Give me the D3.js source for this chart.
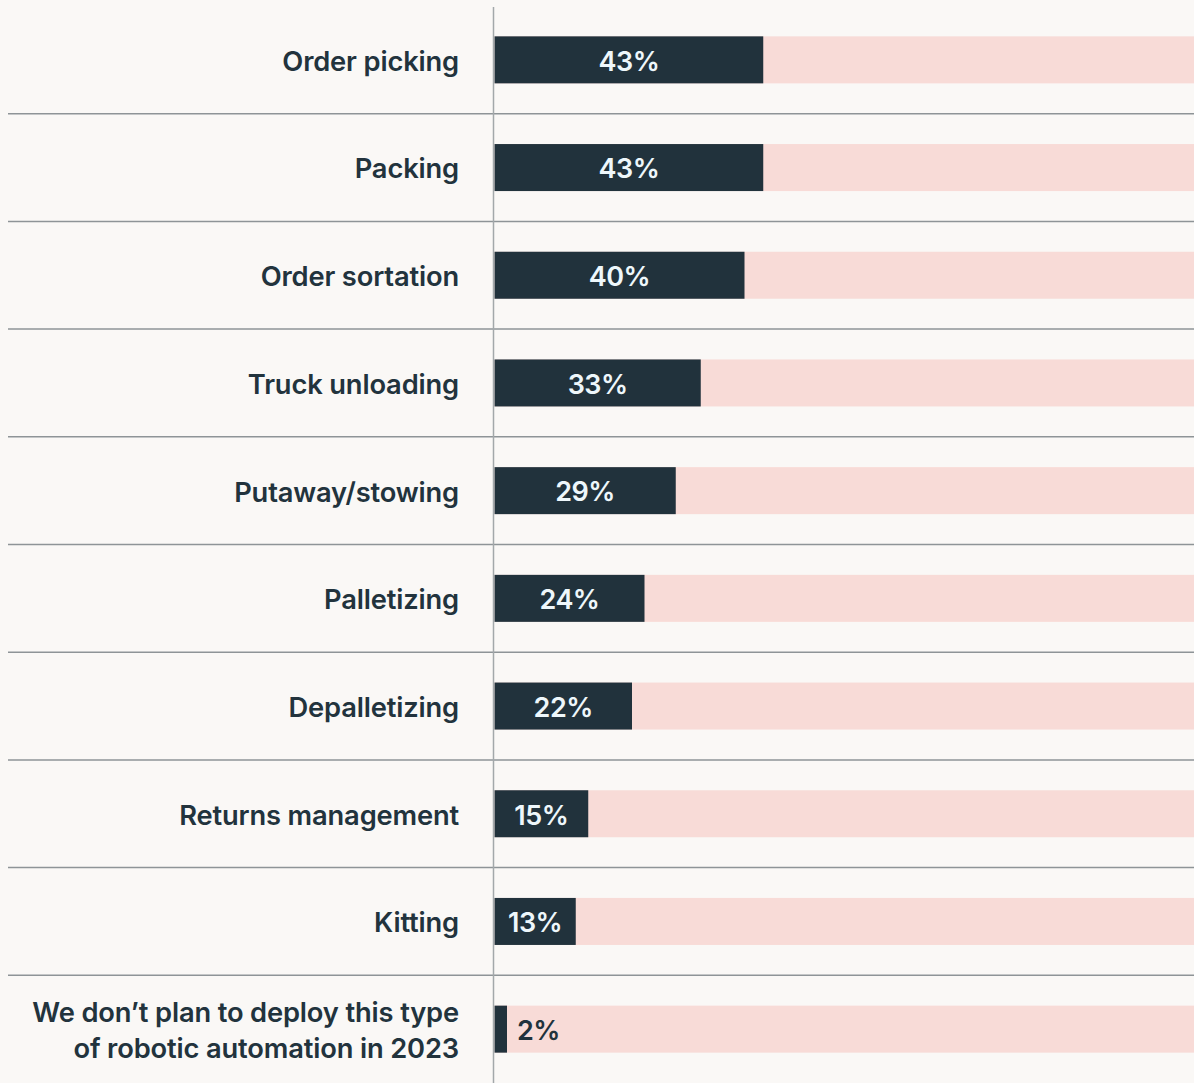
<!DOCTYPE html>
<html>
<head>
<meta charset="utf-8">
<script src="https://cdn.jsdelivr.net/npm/d3@7"></script>
<style>
  html, body { margin: 0; padding: 0; background: #faf8f6; }
  svg { display: block; }
  text { font-family: Inter, "Open Sans", sans-serif; }
</style>
</head>
<body>
<div id="chart"></div>
<script>
const categories = [
  "Order picking",
  "Packing",
  "Order sortation",
  "Truck unloading",
  "Putaway/stowing",
  "Palletizing",
  "Depalletizing",
  "Returns management",
  "Kitting",
  "We don\u2019t plan to deploy this type\nof robotic automation in 2023"
];
const values = [43, 43, 40, 33, 29, 24, 22, 15, 13, 2];

const W = 1194, H = 1083;
const axisX = 494.5;
const svg = d3.select("#chart").append("svg").attr("width", W).attr("height", H);

const y = d3.scaleBand().domain(categories).range([6, H]).paddingInner(0).paddingOuter(0);
const x = d3.scaleLinear().domain([0, 100]).range([axisX, axisX + 625]);
const barH = 47;

// separators
svg.append("g").selectAll("line")
  .data(categories.slice(1))
  .join("line")
  .attr("x1", 8).attr("x2", W)
  .attr("y1", d => y(d)).attr("y2", d => y(d))
  .attr("stroke", "#8e9497").attr("stroke-width", 1.5);

const rows = svg.append("g").selectAll("g")
  .data(categories.map((c, i) => ({c, v: values[i]})))
  .join("g")
  .attr("transform", d => `translate(0,${y(d.c) + y.bandwidth() / 2})`);

// pink track
rows.append("rect")
  .attr("x", x(0)).attr("y", -barH / 2)
  .attr("width", W - x(0)).attr("height", barH)
  .attr("fill", "#f8dbd7");

// dark bar
rows.append("rect")
  .attr("x", x(0)).attr("y", -barH / 2)
  .attr("width", d => x(d.v) - x(0)).attr("height", barH)
  .attr("fill", "#21323c");

// value labels
const inside = d => (x(d.v) - x(0)) > 70;
rows.append("text")
  .attr("x", d => inside(d) ? (x(0) + x(d.v)) / 2 : x(d.v) + 10)
  .attr("text-anchor", d => inside(d) ? "middle" : "start")
  .attr("dy", "0.4em")
  .attr("font-size", 27)
  .attr("font-weight", 600)
  .attr("letter-spacing", -0.5)
  .attr("fill", d => inside(d) ? "#eef7fb" : "#21323c")
  .text(d => d.v + "%");

// category labels
rows.append("text")
  .attr("x", 459)
  .attr("text-anchor", "end")
  .attr("font-size", 27.3)
  .attr("font-weight", 600)
  .attr("letter-spacing", -0.15)
  .attr("fill", "#22333d")
  .each(function(d) {
    const lines = d.c.split("\n");
    const lh = 36.5;
    const t = d3.select(this);
    lines.forEach((ln, i) => {
      t.append("tspan")
        .attr("x", 459)
        .attr("y", (i - (lines.length - 1) / 2) * lh)
        .attr("dy", "0.4em")
        .text(ln);
    });
  });

// vertical axis line
svg.append("line")
  .attr("x1", axisX - 1).attr("x2", axisX - 1)
  .attr("y1", 7).attr("y2", H)
  .attr("stroke", "#a3a8aa").attr("stroke-width", 1.5);
</script>
</body>
</html>
